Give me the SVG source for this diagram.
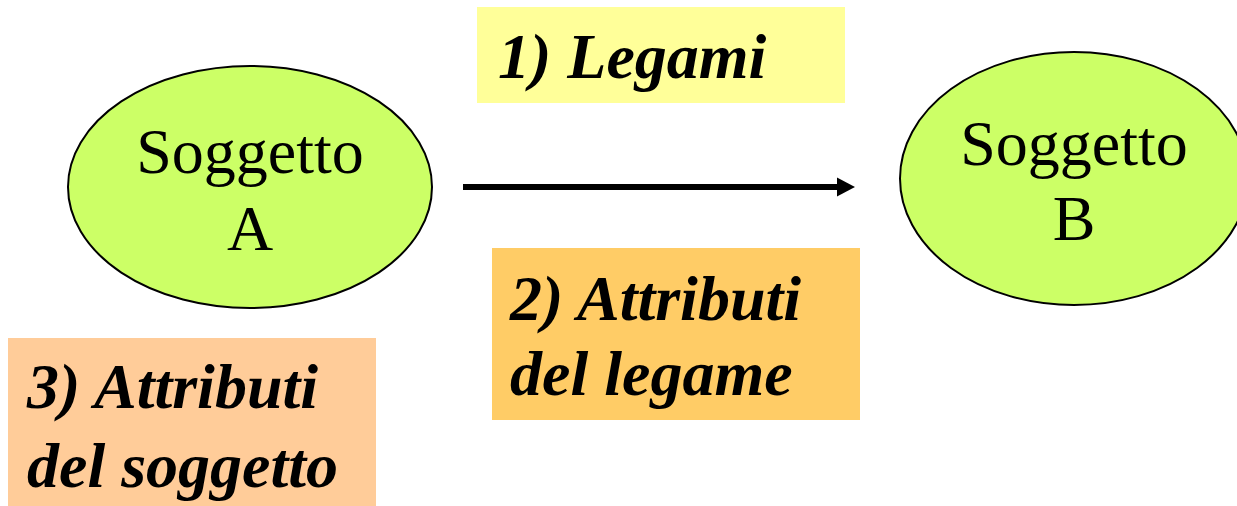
<svg xmlns="http://www.w3.org/2000/svg" width="1237" height="506" viewBox="0 0 1237 506">
  <style>
    .subject { fill: #CCFF66; stroke: #000000; stroke-width: 2; }
    .subject-label { font-family: "Liberation Serif", "Times New Roman", serif; font-size: 64px; fill: #000000; text-anchor: middle; }
    .note-label { font-family: "Liberation Serif", "Times New Roman", serif; font-size: 64px; font-weight: bold; font-style: italic; fill: #000000; }
    .link { stroke: #000000; stroke-width: 6; fill: none; }
  </style>
  <defs>
    <marker id="arrowhead" markerUnits="userSpaceOnUse" markerWidth="20" markerHeight="20" refX="18" refY="9.5" orient="auto">
      <path d="M0,0 L18,9.5 L0,19 Z" fill="#000000"/>
    </marker>
  </defs>

  <rect width="1237" height="506" fill="#FFFFFF"/>

  <g id="legami">
    <rect x="477" y="7" width="368" height="96" fill="#FFFF99"/>
    <text class="note-label" x="498" y="78">1) Legami</text>
  </g>

  <g id="soggetto-a">
    <ellipse class="subject" cx="250" cy="187" rx="182" ry="121"/>
    <text class="subject-label" x="250" y="173">Soggetto</text>
    <text class="subject-label" x="250" y="250">A</text>
  </g>

  <g id="soggetto-b">
    <ellipse class="subject" cx="1074" cy="178.5" rx="174" ry="126.5"/>
    <text class="subject-label" x="1074" y="165">Soggetto</text>
    <text class="subject-label" x="1074" y="240">B</text>
  </g>

  <g id="attributi-legame">
    <rect x="492" y="248" width="368" height="172" fill="#FFCC66"/>
    <text class="note-label" x="510" y="320">2) Attributi</text>
    <text class="note-label" x="510" y="395">del legame</text>
  </g>

  <g id="attributi-soggetto">
    <rect x="8" y="338" width="368" height="168" fill="#FFCC99"/>
    <text class="note-label" x="27" y="408">3) Attributi</text>
    <text class="note-label" x="27" y="487">del soggetto</text>
  </g>

  <g id="connectors">
    <line class="link" x1="463" y1="187" x2="840" y2="187"/>
    <path d="M837,177.5 L855,187 L837,196.5 Z" fill="#000000"/>
  </g>
</svg>
